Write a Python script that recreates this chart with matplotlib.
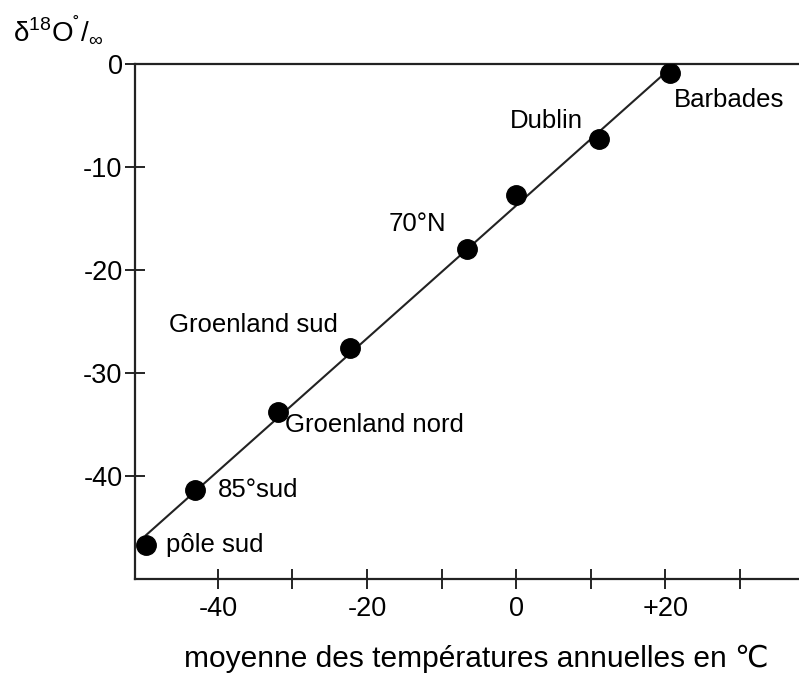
import numpy as np
import matplotlib
matplotlib.use('Agg')
from matplotlib import pyplot as plt

plt.rcParams['font.family'] = ['Liberation Sans', 'DejaVu Sans']
plt.rcParams['mathtext.fontset'] = 'custom'
plt.rcParams['mathtext.rm'] = 'Liberation Sans'

lieux = ['pôle sud', '85°sud', 'Groenland nord', 'Groenland sud', '70°N', '', 'Dublin', 'Barbades']
temperature = [-49.6, -43.0, -31.9, -22.3, -6.6, 0.0, 11.1, 20.6]
delta18O = [-46.7, -41.4, -33.8, -27.6, -18.0, -12.7, -7.3, -0.9]
# decalage des etiquettes (points) et alignement
decal = [(14, 0), (16, 0), (5, -9), (-9, 17), (-15, 18), (0, 0), (-12, 13), (3, -19)]
align = ['left', 'left', 'left', 'right', 'right', 'left', 'right', 'left']

xticks = [-40, -30, -20, -10, 0, 10, 20, 30]
xlabels = ['-40', '', '-20', '', '0', '', '+20', '']
yticks = [0, -10, -20, -30, -40]
ylabels = ['0', '-10', '-20', '-30', '-40']

fig = plt.figure(figsize=(7.99, 6.73), dpi=100)
ax = fig.add_axes([0.169, 0.1397, 0.831, 0.7652])

# droite de regression
a, b = np.polyfit(temperature, delta18O, 1)
xs = np.array([min(temperature), max(temperature)])
ax.plot(xs, a * xs + b, color='#222222', lw=1.5, zorder=2)
ax.plot(temperature, delta18O, 'o', color='black', ms=14, zorder=3)

for nom, t, d, off, ha in zip(lieux, temperature, delta18O, decal, align):
    if nom:
        ax.annotate(nom, (t, d), xytext=off, textcoords='offset points',
                    ha=ha, va='center', fontsize=18.5)

ax.set_xlim(-51.1, 37.9)
ax.set_ylim(-50, 0)
ax.set_xticks(xticks)
ax.set_xticklabels(xlabels)
ax.set_yticks(yticks)
ax.set_yticklabels(ylabels)
ax.tick_params(direction='inout', length=14, width=1.2, labelsize=19.5, colors='black')
ax.tick_params(axis='x', pad=5)
ax.tick_params(axis='y', pad=2)
ax.spines['right'].set_visible(False)
for s in ['left', 'top', 'bottom']:
    ax.spines[s].set_linewidth(1.6)
    ax.spines[s].set_color('#222222')

fig.text(0.596, 0.009, 'moyenne des températures annuelles en ℃', ha='center', va='baseline', fontsize=21.5)
fig.text(0.016, 0.9406, r'δ$^{\mathregular{18}}$O$^{\mathregular{˚}}$/$_{\mathregular{∞}}$',
         ha='left', va='baseline', fontsize=20)

fig.savefig('out.png', dpi=100)
